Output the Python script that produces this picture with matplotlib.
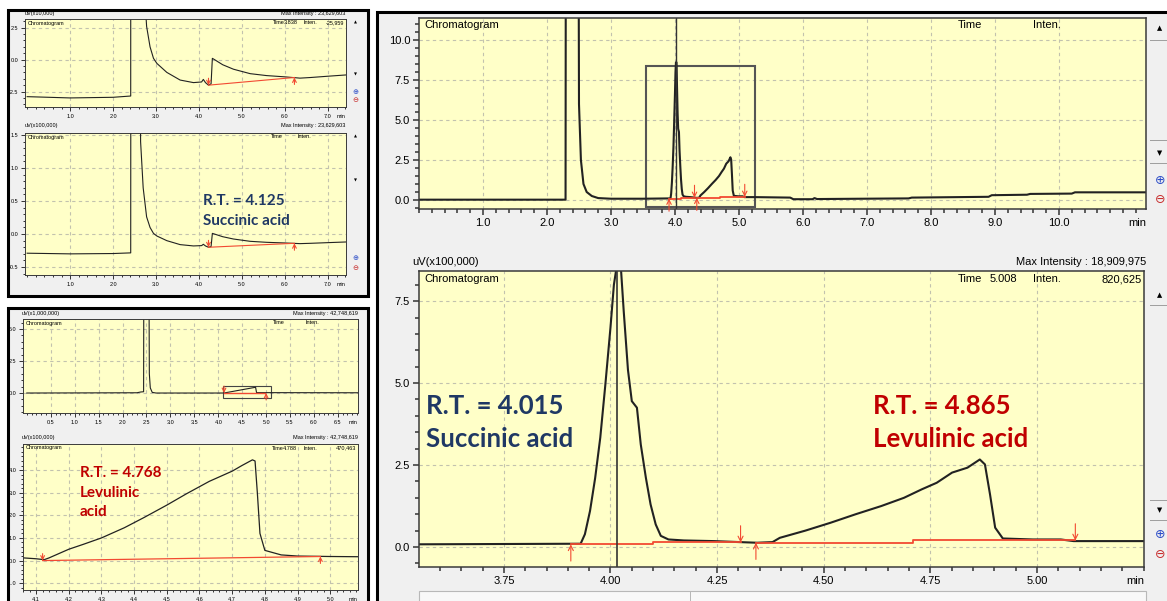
"""
Composite chromatogram figure (succinic + levulinic acid), drawn with matplotlib.
"""
import matplotlib
matplotlib.use("Agg")
import matplotlib.pyplot as plt
from matplotlib.patches import Rectangle
from matplotlib.ticker import MultipleLocator

# ── data: panel A (standard of succinic acid), uV x 10,000 ────────────
a_time = [0.0, 1.0, 2.0, 2.41, 2.415, 2.61, 2.64, 2.70, 2.78, 2.86, 2.94, 3.02,
          3.25, 3.56, 3.87, 4.06, 4.10, 4.15, 4.22, 4.28, 4.31, 4.36, 4.55,
          4.80, 5.19, 5.57, 6.00, 6.35, 6.60, 7.00, 7.42]
a_signal = [-2.9, -3.0, -2.95, -2.85, 60.0, 60.0, 14.0, 7.0, 2.6, 1.0, 0.1, -0.3,
            -1.0, -1.6, -1.8, -1.75, -1.55, -1.8, -2.0, -1.9, 0.1, 0.0, -0.4,
            -0.75, -1.1, -1.25, -1.35, -1.45, -1.4, -1.3, -1.2]
a_base_time = [4.22, 6.22]
a_base_val = [-2.0, -1.4]

# ── data: panel C (standard of levulinic acid) ───────────────────────
c1_time = [0.0, 2.30, 2.38, 2.44, 2.45, 2.54, 2.56, 2.58, 2.62, 2.70, 4.12,
           4.78, 4.80, 6.92]
c1_signal = [0.0, 0.02, 0.08, 0.1, 20.0, 20.0, 1.5, 0.4, 0.05, 0.0, 0.0,
             0.45, 0.03, 0.02]
c2_time = [4.06, 4.10, 4.125, 4.14, 4.20, 4.245, 4.30, 4.37, 4.43, 4.50, 4.56,
           4.63, 4.70, 4.73, 4.762, 4.770, 4.777, 4.785, 4.80, 4.85, 4.90,
           5.00, 5.085]
c2_signal = [0.12, 0.08, 0.04, 0.12, 0.5, 0.72, 1.0, 1.45, 1.9, 2.45, 2.95,
             3.5, 3.95, 4.2, 4.45, 4.4, 3.0, 1.2, 0.45, 0.25, 0.2, 0.18, 0.17]
c_base_time = [4.12, 4.97]
c_base_val = [0.0, 0.18]

# ── data: right panel (sample), uV x 100,000 ─────────────────────────
r_time = [0.0, 2.29, 2.30, 2.48, 2.50, 2.53, 2.57, 2.62, 2.70, 2.80, 3.00,
          3.50, 3.93, 3.94, 3.952, 3.964, 3.976, 3.988, 4.000, 4.008, 4.015,
          4.024, 4.031, 4.041, 4.050, 4.062, 4.071, 4.083, 4.094, 4.106,
          4.118, 4.136, 4.172, 4.243, 4.302, 4.344, 4.380, 4.397, 4.457,
          4.516, 4.575, 4.635, 4.688, 4.730, 4.765, 4.801, 4.837, 4.866,
          4.878, 4.890, 4.902, 4.920, 4.990, 5.056, 5.086, 5.25, 5.80, 5.85,
          6.15, 6.18, 6.22, 7.65, 7.70, 8.90, 8.95, 9.50, 9.55, 10.20, 10.25,
          11.36]
r_signal = [0.02, 0.02, 40.0, 40.0, 6.0, 2.5, 1.0, 0.5, 0.25, 0.12, 0.08,
            0.08, 0.10, 0.39, 1.1, 2.1, 3.33, 4.96, 6.7, 8.0, 8.6,
            8.6, 7.2, 5.4, 4.45, 4.25, 3.13, 2.11, 1.3, 0.69,
            0.34, 0.23, 0.20, 0.18, 0.15, 0.13, 0.15, 0.28, 0.50,
            0.74, 1.00, 1.25, 1.50, 1.76, 1.96, 2.27, 2.42, 2.67,
            2.52, 1.60, 0.59, 0.26, 0.23, 0.23, 0.18, 0.18, 0.15, 0.05,
            0.05, 0.12, 0.06, 0.10, 0.15, 0.20, 0.30, 0.33, 0.38, 0.40, 0.48,
            0.48]
r_base1_time = [3.907, 4.10, 4.10, 4.305]
r_base1_val = [0.08, 0.08, 0.14, 0.14]
r_base2_time = [4.341, 4.71, 4.71, 5.09]
r_base2_val = [0.13, 0.13, 0.20, 0.20]
r_cursor = 4.015

# ── tick positions / labels ──────────────────────────────────────────
a_xticks = [1.0, 2.0, 3.0, 4.0, 5.0, 6.0, 7.0]
a1_yticks = [-2.5, 0.0, 2.5]
a2_yticks = [-0.5, 0.0, 0.5, 1.0, 1.5]
c1_xticks = [0.5, 1.0, 1.5, 2.0, 2.5, 3.0, 3.5, 4.0, 4.5, 5.0, 5.5, 6.0, 6.5]
c1_yticks = [0.0, 2.5, 5.0]
c2_xticks = [4.1, 4.2, 4.3, 4.4, 4.5, 4.6, 4.7, 4.8, 4.9, 5.0]
c2_yticks = [-1.0, 0.0, 1.0, 2.0, 3.0, 4.0]
r1_xticks = [1.0, 2.0, 3.0, 4.0, 5.0, 6.0, 7.0, 8.0, 9.0, 10.0]
r1_yticks = [0.0, 2.5, 5.0, 7.5, 10.0]
r2_xticks = [3.75, 4.00, 4.25, 4.50, 4.75, 5.00]
r2_yticks = [0.0, 2.5, 5.0, 7.5]

YELLOW = "#FFFFC8"
PANEL = "#F0F0F0"
TRACE = "#222222"
RED = "#F24A32"
NAVY = "#1F3864"
DARKRED = "#C00000"
NARROW = ["Liberation Sans Narrow", "Liberation Sans", "DejaVu Sans"]
BOLD = ["Lato", "DejaVu Sans"]

W, H = 1167, 601
fig = plt.figure(figsize=(W / 100, H / 100), dpi=100)
fig.patch.set_facecolor("white")


def px_axes(l, t, r, b):
    return fig.add_axes([l / W, 1 - b / H, (r - l) / W, (b - t) / H])


def px_rect(l, t, r, b, z=-10, **kw):
    fig.patches.append(Rectangle((l / W, 1 - b / H), (r - l) / W, (b - t) / H,
                                 transform=fig.transFigure, figure=fig, zorder=z, **kw))


def px_text(x, y, s, **kw):
    kw.setdefault("family", NARROW)
    kw.setdefault("va", "center")
    fig.text(x / W, 1 - y / H, s, **kw)


def estilo(ax, xlim, ylim, xticks, xfmt, xminor, yticks, yminor, fs, lw):
    ax.set_facecolor(YELLOW)
    ax.set_xlim(xlim)
    ax.set_ylim(ylim)
    ax.set_xticks(xticks)
    ax.set_xticklabels([xfmt % v for v in xticks])
    ax.set_yticks(yticks)
    ax.set_yticklabels(["%.1f" % v for v in yticks])
    ax.xaxis.set_minor_locator(MultipleLocator(xminor))
    ax.yaxis.set_minor_locator(MultipleLocator(yminor))
    ax.tick_params(which="major", direction="out", length=4 * lw, width=lw,
                   labelsize=fs, pad=2, color="#333333")
    ax.tick_params(which="minor", direction="out", length=2.5 * lw, width=lw,
                   color="#333333")
    for lab in ax.get_xticklabels() + ax.get_yticklabels():
        lab.set_family(NARROW)
    for sp in ax.spines.values():
        sp.set_color("#3A3A3A")
        sp.set_linewidth(lw)
    ax.grid(True, which="major", ls=(0, (3, 3)), color="#C2C2AE", lw=0.8)
    ax.set_axisbelow(True)
    ax.annotate("min", xy=(1, 0), xycoords="axes fraction", xytext=(0, -2 - 4 * lw),
                textcoords="offset points", ha="right", va="top",
                fontsize=fs, family=NARROW)


def seta(ax, x, y, para_cima, tam):
    # red peak start/end markers
    off = -tam if para_cima else tam
    ax.annotate("", xy=(x, y), xytext=(0, off), textcoords="offset points",
                arrowprops=dict(arrowstyle="->", color=RED, lw=0.8,
                                shrinkA=0, shrinkB=0, mutation_scale=5 + tam / 3))


# ── panel frames ────────────────────────────────────────────────────
px_rect(8, 10, 368, 296, facecolor=PANEL, edgecolor="black", lw=2.2)
px_rect(8, 308, 368, 606, facecolor=PANEL, edgecolor="black", lw=2.2)
px_rect(377, 12, 1170, 606, facecolor=PANEL, edgecolor="black", lw=2.2)

# ── panel A: two views ──────────────────────────────────────────────
ax = px_axes(25, 19, 346, 107)
estilo(ax, (-0.05, 7.42), (-3.71, 3.18), a_xticks, "%.1f", 0.2, a1_yticks, 0.5, 4, 0.7)
ax.plot(a_time, a_signal, color=TRACE, lw=0.8)
ax.plot(a_base_time, a_base_val, color=RED, lw=0.8)
seta(ax, a_base_time[0], a_base_val[0], False, 5)
seta(ax, a_base_time[1], a_base_val[1], True, 5)
px_text(25, 13, "uV(x10,000)", fontsize=4)
px_text(345, 13, "Max Intensity : 23,629,603", fontsize=4, ha="right")
px_text(28, 23, "Chromatogram", fontsize=4)
px_text(273, 23, "Time", fontsize=4)
px_text(284, 23, "3.838", fontsize=4)
px_text(303, 23, "Inten.", fontsize=4)
px_text(344, 23, "-25,959", fontsize=4, ha="right")

ax = px_axes(25, 133, 346, 275)
estilo(ax, (-0.05, 7.42), (-0.62, 1.53), a_xticks, "%.1f", 0.2, a2_yticks, 0.1, 4, 0.7)
ax.plot(a_time, [v / 10 for v in a_signal], color=TRACE, lw=0.8)
ax.plot(a_base_time, [v / 10 for v in a_base_val], color=RED, lw=0.8)
seta(ax, a_base_time[0], a_base_val[0] / 10, False, 5)
seta(ax, a_base_time[1], a_base_val[1] / 10, True, 5)
px_text(25, 126, "uV(x100,000)", fontsize=4)
px_text(345, 126, "Max Intensity : 23,629,603", fontsize=4, ha="right")
px_text(28, 137, "Chromatogram", fontsize=4)
px_text(271, 137, "Time", fontsize=4)
px_text(298, 137, "Inten.", fontsize=4)
px_text(203, 201, "R.T. = 4.125", fontsize=11, weight="bold", color=NAVY, family=BOLD)
px_text(203, 221, "Succinic acid", fontsize=11, weight="bold", color=NAVY, family=BOLD)

# ── panel C: two views ──────────────────────────────────────────────
ax = px_axes(23, 319, 358, 413)
estilo(ax, (-0.08, 6.92), (-1.56, 5.78), c1_xticks, "%.1f", 0.1, c1_yticks, 0.5, 4, 0.7)
ax.plot(c1_time, c1_signal, color=TRACE, lw=0.8)
ax.plot(c_base_time, [0.0, 0.0], color=RED, lw=1.0)
ax.add_patch(Rectangle((4.10, -0.35), 1.0, 0.9, fill=False, edgecolor="#444444", lw=0.8))
seta(ax, c_base_time[0], 0.0, False, 5)
seta(ax, 5.0, 0.0, True, 5)
px_text(22, 313, "uV(x1,000,000)", fontsize=4)
px_text(358, 313, "Max Intensity : 42,748,619", fontsize=4, ha="right")
px_text(26, 323, "Chromatogram", fontsize=4)
px_text(273, 323, "Time", fontsize=4)
px_text(306, 323, "Inten.", fontsize=4)

ax = px_axes(23, 444, 358, 590)
estilo(ax, (4.06, 5.085), (-1.3, 5.15), c2_xticks, "%.1f", 0.02, c2_yticks, 0.2, 4, 0.7)
ax.plot(c2_time, c2_signal, color=TRACE, lw=0.9)
ax.plot(c_base_time, c_base_val, color=RED, lw=0.9)
seta(ax, c_base_time[0], c_base_val[0], False, 5)
seta(ax, c_base_time[1], c_base_val[1], True, 5)
px_text(22, 438, "uV(x100,000)", fontsize=4)
px_text(358, 438, "Max Intensity : 42,748,619", fontsize=4, ha="right")
px_text(26, 448, "Chromatogram", fontsize=4)
px_text(272, 448, "Time", fontsize=4)
px_text(283, 448, "4.788", fontsize=4)
px_text(304, 448, "Inten.", fontsize=4)
px_text(356, 448, "470,463", fontsize=4, ha="right")
px_text(80, 473, "R.T. = 4.768", fontsize=11, weight="bold", color=DARKRED, family=BOLD)
px_text(80, 493, "Levulinic", fontsize=11, weight="bold", color=DARKRED, family=BOLD)
px_text(80, 512, "acid", fontsize=11, weight="bold", color=DARKRED, family=BOLD)

# ── right panel: full run ───────────────────────────────────────────
ax = px_axes(419, 18, 1146, 209)
estilo(ax, (0.0, 11.36), (-0.5625, 11.375), r1_xticks, "%.1f", 0.2, r1_yticks, 0.5, 8, 1.1)
ax.plot(r_time, r_signal, color=TRACE, lw=1.5)
ax.plot(r_base1_time, r_base1_val, color=RED, lw=1.3)
ax.plot(r_base2_time, r_base2_val, color=RED, lw=1.3)
ax.axvline(r_cursor, color="#333333", lw=1.0)
ax.add_patch(Rectangle((3.55, -0.45), 1.70, 8.85, fill=False, edgecolor="#555555", lw=1.5))
for xx, yy, up in [(3.907, 0.08, True), (4.305, 0.14, False),
                   (4.341, 0.13, True), (5.09, 0.20, False)]:
    seta(ax, xx, yy, up, 9)
px_text(424, 25, "Chromatogram", fontsize=8)
px_text(958, 25, "Time", fontsize=8)
px_text(1033, 25, "Inten.", fontsize=8)

# ── right panel: zoom on the two peaks ──────────────────────────────
ax = px_axes(419, 271, 1144, 567)
estilo(ax, (3.551, 5.251), (-0.61, 8.42), r2_xticks, "%.2f", 0.05, r2_yticks, 0.5, 8, 1.1)
ax.plot(r_time, r_signal, color=TRACE, lw=1.5)
ax.plot(r_base1_time, r_base1_val, color=RED, lw=1.3)
ax.plot(r_base2_time, r_base2_val, color=RED, lw=1.3)
ax.axvline(r_cursor, color="#333333", lw=1.2)
for xx, yy, up in [(3.907, 0.08, True), (4.305, 0.14, False),
                   (4.341, 0.13, True), (5.09, 0.20, False)]:
    seta(ax, xx, yy, up, 12)
px_text(412, 262, "uV(x100,000)", fontsize=8)
px_text(1146, 262, "Max Intensity : 18,909,975", fontsize=8, ha="right")
px_text(424, 279, "Chromatogram", fontsize=8)
px_text(958, 279, "Time", fontsize=8)
px_text(990, 279, "5.008", fontsize=8)
px_text(1033, 279, "Inten.", fontsize=8)
px_text(1142, 279, "820,625", fontsize=8, ha="right")
px_text(426, 406, "R.T. = 4.015", fontsize=18.5, weight="bold", color=NAVY, family=BOLD)
px_text(426, 439, "Succinic acid", fontsize=18.5, weight="bold", color=NAVY, family=BOLD)
px_text(873, 406, "R.T. = 4.865", fontsize=18.5, weight="bold", color=DARKRED, family=BOLD)
px_text(873, 439, "Levulinic acid", fontsize=18.5, weight="bold", color=DARKRED, family=BOLD)

# ── window widgets (scroll buttons / zoom icons) ────────────────────
for x0, ys, fs in [(1160, (28, 153, 180, 200), 7), (1160, (295, 510, 535, 555), 7),
                   (355, (22, 75, 92, 100), 4), (355, (136, 180, 258, 268), 4)]:
    px_text(x0, ys[0], "\u25B2", fontsize=fs * 0.7, ha="center", family="DejaVu Sans")
    px_text(x0, ys[1], "\u25BC", fontsize=fs * 0.7, ha="center", family="DejaVu Sans")
    px_text(x0, ys[2], "\u2295", fontsize=fs * 1.3, ha="center", color="#2F4FC8",
            family="DejaVu Sans")
    px_text(x0, ys[3], "\u2296", fontsize=fs * 1.3, ha="center", color="#C83030",
            family="DejaVu Sans")
for y0 in (40, 140, 163, 305, 500, 520):
    px_rect(1150, y0, 1167, y0 + 1, z=5, facecolor="#A0A0A0", lw=0)
px_rect(419, 591, 1146, 606, z=5, facecolor="#F8F8F8", edgecolor="#B8B8B8", lw=0.8)
px_rect(690, 591, 691, 606, z=5, facecolor="#B8B8B8", lw=0)
px_text(425, 597, "\u25C2", fontsize=6, ha="center", family="DejaVu Sans", color="#555555")
px_text(1140, 597, "\u25B8", fontsize=6, ha="center", family="DejaVu Sans", color="#555555")

fig.savefig("out.png", dpi=100)
